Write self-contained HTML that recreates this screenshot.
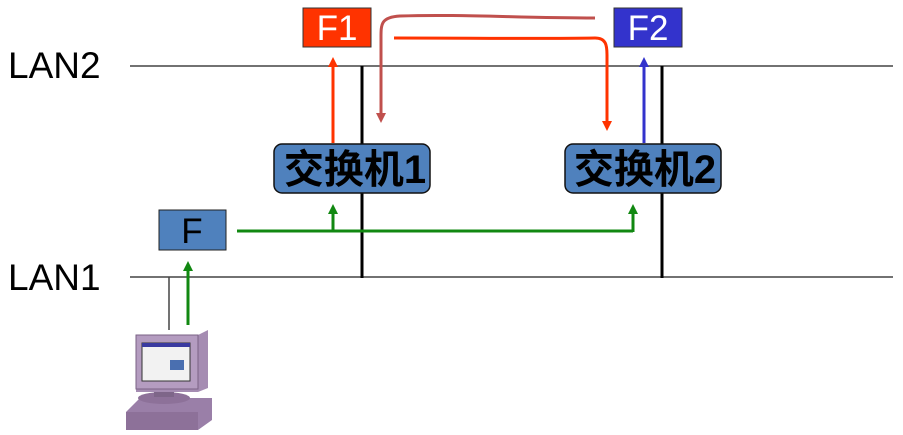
<!DOCTYPE html>
<html><head><meta charset="utf-8"><style>
body{margin:0;background:#fff;}
svg{display:block}
</style></head><body>
<svg width="903" height="435" viewBox="0 0 903 435" xmlns="http://www.w3.org/2000/svg">
<defs>
<marker id="ag" markerWidth="10" markerHeight="10" refX="5" refY="5" orient="auto" markerUnits="userSpaceOnUse"><path d="M0,0 L10,5 L0,10 z" fill="#118811"/></marker>
<marker id="ar" markerWidth="10" markerHeight="10" refX="5" refY="5" orient="auto" markerUnits="userSpaceOnUse"><path d="M0,0 L10,5 L0,10 z" fill="#ff3300"/></marker>
<marker id="ab" markerWidth="10" markerHeight="10" refX="5" refY="5" orient="auto" markerUnits="userSpaceOnUse"><path d="M0,0 L10,5 L0,10 z" fill="#3333cc"/></marker>
<marker id="am" markerWidth="10" markerHeight="10" refX="5" refY="5" orient="auto" markerUnits="userSpaceOnUse"><path d="M0,0 L10,5 L0,10 z" fill="#c0504d"/></marker>
</defs>
<text x="8" y="78" font-family="Liberation Sans, sans-serif" font-size="37" fill="#000">LAN2</text>
<text x="8" y="290" font-family="Liberation Sans, sans-serif" font-size="37" fill="#000">LAN1</text>
<line x1="130" y1="66" x2="893" y2="66" stroke="#444" stroke-width="1.5"/>
<line x1="130" y1="277" x2="893" y2="277" stroke="#444" stroke-width="1.5"/>
<line x1="362" y1="66" x2="362" y2="278" stroke="#000" stroke-width="3"/>
<line x1="662" y1="66" x2="662" y2="278" stroke="#000" stroke-width="3"/>
<line x1="169" y1="277" x2="169" y2="330" stroke="#444" stroke-width="1.5"/>

<rect x="303" y="8" width="68" height="39" fill="#ff3300" stroke="#333" stroke-width="1"/>
<text x="337" y="40" text-anchor="middle" font-family="Liberation Sans, sans-serif" font-size="35" fill="#fff">F1</text>
<rect x="614" y="8" width="68" height="39" fill="#3333cc" stroke="#333" stroke-width="1"/>
<text x="648" y="40" text-anchor="middle" font-family="Liberation Sans, sans-serif" font-size="35" fill="#fff">F2</text>

<rect x="274" y="144" width="156" height="49" rx="8" fill="#4f81bd" stroke="#111" stroke-width="1.5"/>
<text x="355" y="183" text-anchor="middle" font-family="Liberation Sans, 'Noto Sans CJK SC', sans-serif" font-weight="bold" font-size="40" fill="#000">交换机1</text>
<rect x="565" y="144" width="156" height="49" rx="8" fill="#4f81bd" stroke="#111" stroke-width="1.5"/>
<text x="645" y="183" text-anchor="middle" font-family="Liberation Sans, 'Noto Sans CJK SC', sans-serif" font-weight="bold" font-size="40" fill="#000">交换机2</text>

<rect x="159" y="210" width="67" height="40" fill="#4f81bd" stroke="#222" stroke-width="1"/>
<text x="192" y="243" text-anchor="middle" font-family="Liberation Sans, sans-serif" font-size="35" fill="#000">F</text>

<line x1="188" y1="325" x2="188" y2="266" stroke="#118811" stroke-width="3" marker-end="url(#ag)"/>
<line x1="237" y1="231" x2="633" y2="231" stroke="#118811" stroke-width="3"/>
<line x1="333" y1="231" x2="333" y2="209" stroke="#118811" stroke-width="3" marker-end="url(#ag)"/>
<line x1="633" y1="232" x2="633" y2="209" stroke="#118811" stroke-width="3" marker-end="url(#ag)"/>
<line x1="333" y1="143" x2="333" y2="62" stroke="#ff3300" stroke-width="3" marker-end="url(#ar)"/>
<line x1="644" y1="143" x2="644" y2="62" stroke="#3333cc" stroke-width="3" marker-end="url(#ab)"/>
<path d="M595,18 C520,18 460,14 400,16 C380,17 381,25 381,40 L381,118" fill="none" stroke="#c0504d" stroke-width="3" marker-end="url(#am)"/>
<path d="M394,38 C470,38 540,39 595,38 C606,38 607,45 607,55 L607,126" fill="none" stroke="#ff3300" stroke-width="3" marker-end="url(#ar)"/>

<g>
<polygon points="126,412 140,398 212,398 212,420 198,430 126,430" fill="#9a7fa8"/>
<rect x="126" y="412" width="72" height="18" fill="#8d7199"/>
<ellipse cx="164" cy="398" rx="26" ry="6" fill="#8d7199"/>
<rect x="154" y="385" width="20" height="12" fill="#7e6689"/>
<polygon points="136,335 198,335 208,330 208,388 198,392 136,392" fill="#a58cb2"/>
<rect x="136" y="335" width="62" height="54" fill="#b49cc0" stroke="#7a6285"/>
<rect x="142" y="343" width="48" height="38" fill="#f2f2f2" stroke="#333"/>
<rect x="142" y="343" width="48" height="4" fill="#3a3aa0"/>
<rect x="170" y="360" width="14" height="10" fill="#4a6fb0"/>
</g>
</svg>
</body></html>
